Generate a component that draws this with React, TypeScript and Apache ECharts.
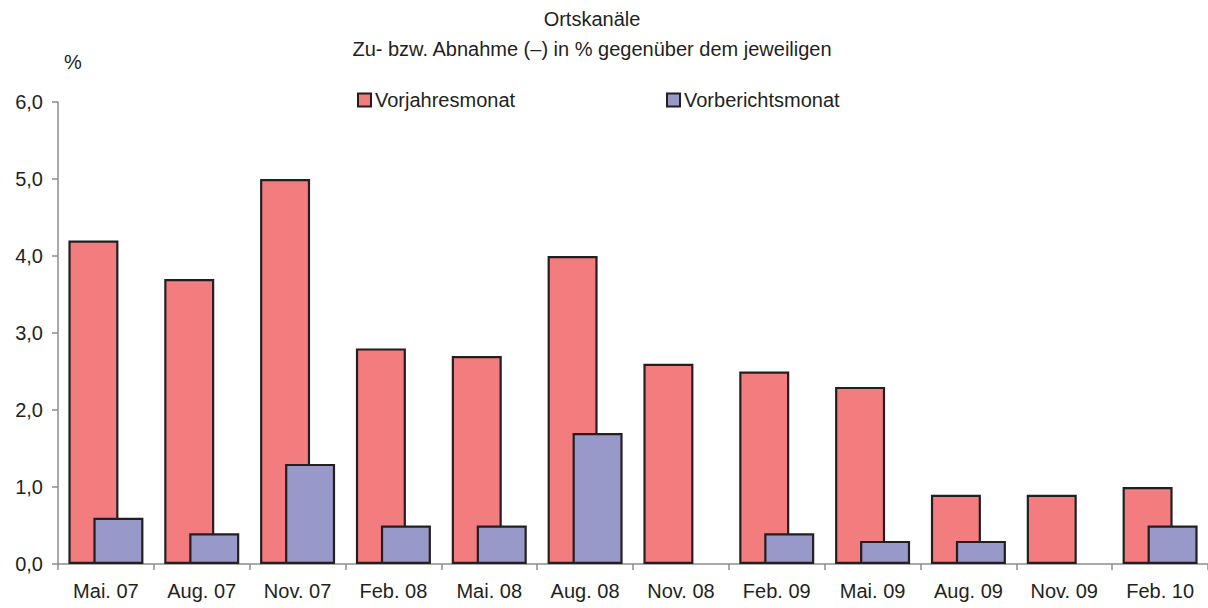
import React, { useEffect, useRef } from "react";
import * as echarts from "echarts";

const categories = ["Mai. 07", "Aug. 07", "Nov. 07", "Feb. 08", "Mai. 08", "Aug. 08", "Nov. 08", "Feb. 09", "Mai. 09", "Aug. 09", "Nov. 09", "Feb. 10"];
const vorjahresmonat = [4.2, 3.7, 5.0, 2.8, 2.7, 4.0, 2.6, 2.5, 2.3, 0.9, 0.9, 1.0];
const vorberichtsmonat: (number | null)[] = [0.6, 0.4, 1.3, 0.5, 0.5, 1.7, null, 0.4, 0.3, 0.3, null, 0.5];
const titleLine1 = "Ortskanäle";
const titleLine2 = "Zu- bzw. Abnahme (–) in % gegenüber dem jeweiligen";

const FONT = "'Liberation Sans', Arial, sans-serif";
const TEXT = "#231f20";
const FS = 20;

export default function App() {
  const ref = useRef<HTMLDivElement>(null);
  useEffect(() => {
    const chart = echarts.init(ref.current!, null, { renderer: "svg" });
    const legendCommon = {
      top: 90,
      padding: 0,
      icon: "rect",
      itemWidth: 13,
      itemHeight: 13,
      itemGap: 4,
      textStyle: { fontSize: FS, color: TEXT, fontFamily: FONT, padding: [0, 0, 0, -1] },
    };
    chart.setOption({
      animation: false,
      backgroundColor: "#ffffff",
      textStyle: { fontFamily: FONT },
      legend: [
        { ...legendCommon, data: ["Vorjahresmonat"], left: 357 },
        { ...legendCommon, data: ["Vorberichtsmonat"], left: 666 },
      ],
      graphic: [
        { type: "text", x: 592, y: 19, style: { text: titleLine1, fontSize: FS, fill: TEXT, fontFamily: FONT, textAlign: "center", textVerticalAlign: "middle" } },
        { type: "text", x: 592, y: 49, style: { text: titleLine2, fontSize: FS, fill: TEXT, fontFamily: FONT, textAlign: "center", textVerticalAlign: "middle" } },
        { type: "text", x: 73, y: 62, style: { text: "%", fontSize: FS, fill: TEXT, fontFamily: FONT, textAlign: "center", textVerticalAlign: "middle" } },
      ],
      grid: { left: 58, right: 0, top: 102, bottom: 44 },
      xAxis: {
        type: "category",
        data: categories,
        axisLine: { lineStyle: { color: "#8c8c8c", width: 1.5 } },
        axisTick: { show: true, length: 6, lineStyle: { color: "#8c8c8c", width: 1.5 } },
        axisLabel: { fontSize: FS, color: TEXT, margin: 17, fontFamily: FONT },
      },
      yAxis: {
        type: "value",
        min: 0,
        max: 6,
        interval: 1,
        axisLine: { show: true, lineStyle: { color: "#8c8c8c", width: 1.5 } },
        axisTick: { show: true, length: 6, lineStyle: { color: "#8c8c8c", width: 1.5 } },
        splitLine: { show: false },
        axisLabel: { fontSize: FS, color: TEXT, margin: 15, fontFamily: FONT, formatter: (v: number) => v.toFixed(1).replace(".", ",") },
      },
      series: [
        {
          name: "Vorjahresmonat",
          type: "bar",
          data: vorjahresmonat,
          barWidth: 50,
          barGap: "-50%",
          itemStyle: { color: "#f27c7e", borderColor: "#231f20", borderWidth: 2.2 },
        },
        {
          name: "Vorberichtsmonat",
          type: "bar",
          data: vorberichtsmonat,
          barWidth: 50,
          itemStyle: { color: "#9898c9", borderColor: "#231f20", borderWidth: 2.2 },
        },
      ],
    });
    return () => chart.dispose();
  }, []);
  return <div ref={ref} style={{ position: "fixed", left: 0, top: 0, width: 1208, height: 608 }} />;
}
